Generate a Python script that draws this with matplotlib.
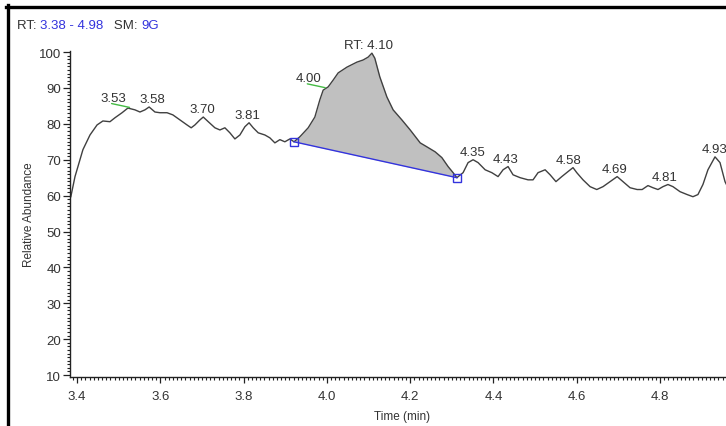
import numpy as np
import matplotlib.pyplot as plt
from matplotlib.lines import Line2D
from matplotlib.ticker import MultipleLocator

# chromatogram trace (time in min, relative abundance)
time = [3.385, 3.395, 3.414, 3.431, 3.448, 3.462, 3.479, 3.491, 3.508, 3.522,
        3.539, 3.551, 3.563, 3.573, 3.587, 3.599, 3.616, 3.630, 3.647, 3.664,
        3.674, 3.683, 3.695, 3.703, 3.715, 3.731, 3.743, 3.755, 3.767, 3.779,
        3.791, 3.803, 3.813, 3.823, 3.835, 3.851, 3.863, 3.875, 3.887, 3.899,
        3.911, 3.921, 3.935, 3.955, 3.971, 3.983, 3.991, 4.003, 4.015, 4.027,
        4.048, 4.072, 4.087, 4.099, 4.108, 4.115, 4.127, 4.144, 4.159, 4.180,
        4.200, 4.224, 4.240, 4.260, 4.276, 4.291, 4.303, 4.312, 4.327, 4.339,
        4.351, 4.363, 4.380, 4.396, 4.411, 4.423, 4.435, 4.447, 4.464, 4.483,
        4.495, 4.507, 4.524, 4.536, 4.550, 4.564, 4.579, 4.591, 4.600, 4.615,
        4.632, 4.648, 4.663, 4.680, 4.697, 4.711, 4.728, 4.745, 4.757, 4.771,
        4.783, 4.795, 4.807, 4.819, 4.831, 4.848, 4.865, 4.879, 4.891, 4.903,
        4.915, 4.932, 4.944, 4.956, 4.968]
abundance = [59.7, 65.3, 72.8, 76.9, 79.7, 80.8, 80.6, 81.7, 83.1, 84.4,
             83.9, 83.3, 83.9, 84.7, 83.3, 83.1, 83.1, 82.5, 81.1, 79.7,
             78.9, 79.7, 81.1, 81.9, 80.6, 78.9, 78.3, 78.9, 77.5, 75.8,
             76.9, 79.2, 80.3, 78.9, 77.5, 76.9, 76.1, 74.7, 75.6, 75.0,
             75.8, 75.0, 76.4, 78.9, 81.9, 86.7, 89.4, 90.3, 92.2, 94.2,
             95.8, 97.2, 97.8, 98.6, 99.7, 98.3, 93.1, 87.5, 83.9, 81.1,
             78.3, 74.7, 73.6, 72.2, 70.6, 68.1, 66.4, 65.0, 66.4, 69.2,
             70.0, 69.2, 67.2, 66.4, 65.3, 67.2, 68.1, 65.8, 65.0, 64.4,
             64.4, 66.4, 67.2, 65.8, 63.9, 65.3, 66.7, 67.8, 66.4, 64.4,
             62.5, 61.7, 62.5, 63.9, 65.3, 63.9, 62.2, 61.7, 61.7, 62.8,
             62.2, 61.7, 62.5, 63.1, 62.5, 61.1, 60.3, 59.7, 60.3, 63.1,
             67.2, 70.8, 69.2, 63.9, 61.1]

# integration baseline (start, end)
base_t = [3.921, 4.312]
base_y = [75.0, 65.0]

# peak labels
peak_times = [3.53, 3.58, 3.70, 3.81, 4.00, 4.10, 4.35, 4.43, 4.58, 4.69, 4.81, 4.93]
peak_texts = ['3.53', '3.58', '3.70', '3.81', '4.00', 'RT: 4.10', '4.35', '4.43',
              '4.58', '4.69', '4.81', '4.93']
leader_peaks = ['3.53', '4.00']  # these have a green leader line

plt.rcParams['font.family'] = ['Liberation Sans', 'DejaVu Sans']
txt_col = '#333333'
blue = '#3333dd'

t = np.array(time)
a = np.array(abundance)

fig = plt.figure(figsize=(7.26, 4.27), dpi=100)
W, H = 726, 427
ax = fig.add_axes([70 / W, (H - 377.5) / H, 665 / W, 325.5 / H])

# shaded peak area
m = (t >= base_t[0]) & (t <= base_t[1])
ax.fill_between(t[m], a[m], np.interp(t[m], base_t, base_y), color='#c0c0c0', lw=0)
ax.plot(t, a, color='#404040', lw=1.0)
ax.plot(base_t, base_y, color=blue, lw=1.0)
ax.plot(base_t, base_y, ls='none', marker='s', ms=5.5, mfc='none', mec=blue, mew=1.0)

for pt, lab in zip(peak_times, peak_texts):
    win = (t >= pt - 0.012) & (t <= pt + 0.012)
    top = a[win].max() if win.any() else np.interp(pt, t, a)
    if lab in leader_peaks:
        xp = pt - 0.004
        ax.annotate(lab, xy=(xp, np.interp(xp, t, a) + 0.3), xytext=(-12, 4.5),
                    textcoords='offset points', ha='center', va='baseline',
                    fontsize=9.5, color=txt_col,
                    arrowprops=dict(arrowstyle='-', color='#44bb44', lw=1,
                                    relpos=(0.45, 0.05), shrinkA=0, shrinkB=0,
                                    patchA=None))
    else:
        ax.annotate(lab, xy=(pt, top), xytext=(0, 3.6), textcoords='offset points',
                    ha='center', va='baseline', fontsize=9.5, color=txt_col,
                    annotation_clip=False)

ax.set_xlim(3.383, 4.98)
ax.set_ylim(9.6, 100.3)
ax.xaxis.set_major_locator(MultipleLocator(0.2))
ax.xaxis.set_minor_locator(MultipleLocator(0.01))
ax.yaxis.set_major_locator(MultipleLocator(10))
ax.yaxis.set_minor_locator(MultipleLocator(1))
ax.xaxis.set_major_formatter(plt.FuncFormatter(lambda v, p: '%.1f' % v))
ax.set_yticks(np.arange(10, 101, 10))

for s in ['top', 'right']:
    ax.spines[s].set_visible(False)
for s in ['left', 'bottom']:
    ax.spines[s].set_color('#222222')
    ax.spines[s].set_linewidth(1.0)

ax.tick_params(axis='x', which='major', length=4.5, width=0.9, pad=5.5, labelsize=9.5,
               colors='#222222', labelcolor=txt_col)
ax.tick_params(axis='x', which='minor', length=2, width=0.8, colors='#222222')
ax.tick_params(axis='y', which='major', length=5, width=0.9, pad=1.5, labelsize=9.5,
               colors='#222222', labelcolor=txt_col)
ax.tick_params(axis='y', which='minor', length=2.5, width=0.8, colors='#222222')

ax.set_xlabel('Time (min)', fontsize=8.5, color=txt_col, labelpad=5.5)
ax.set_ylabel('Relative Abundance', fontsize=8.5, color=txt_col, labelpad=3)

# header line
hy = (H - 29) / H
t1 = fig.text(17 / W, hy, 'RT: ', fontsize=9.5, color=txt_col, va='baseline')
t2 = plt.annotate('3.38 - 4.98', xy=(1, 0), xycoords=t1, va='bottom', ha='left',
                  fontsize=9.5, color=blue)
t3 = plt.annotate('   SM: ', xy=(1, 0), xycoords=t2, va='bottom', ha='left',
                  fontsize=9.5, color=txt_col)
plt.annotate('9G', xy=(1, 0), xycoords=t3, va='bottom', ha='left',
             fontsize=9.5, color=blue)

# black frame on left and top edge
fig.add_artist(Line2D([7.5 / W, 7.5 / W], [0, (H - 5.5) / H], color='black', lw=2.4,
                      transform=fig.transFigure))
fig.add_artist(Line2D([6 / W, 1], [(H - 7.5) / H, (H - 7.5) / H], color='black', lw=2.4,
                      transform=fig.transFigure))

fig.savefig('out.png', dpi=100)
